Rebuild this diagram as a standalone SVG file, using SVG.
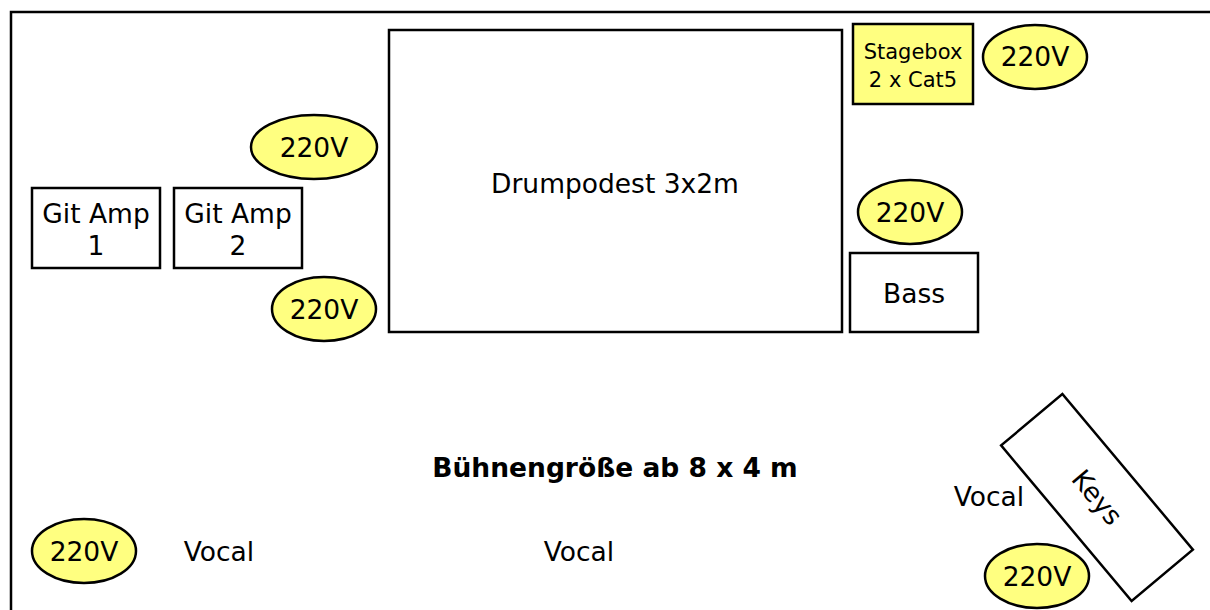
<svg xmlns="http://www.w3.org/2000/svg" width="1210" height="610" viewBox="0 0 1210 610">
<style>
.box{fill:#ffffff;stroke:#000000;stroke-width:2.5}
.ybox{fill:#ffff80;stroke:#000000;stroke-width:2.5}
.pw{fill:#ffff80;stroke:#000000;stroke-width:2.5}
text{font-family:"DejaVu Sans","Verdana",sans-serif;font-size:26.5px;fill:#000000;text-anchor:middle}
.pwt{font-size:26.5px}
.sb{font-size:21px}
</style>
<rect width="1210" height="610" fill="#ffffff"/>
<g id="stage">
<path d="M11,620 L11,12 L1215,12" fill="none" stroke="#000" stroke-width="2.5"/>
<text x="615" y="477" font-weight="bold">Bühnengröße ab 8 x 4 m</text>
</g>
<g id="drum"><rect class="box" x="389" y="30" width="453" height="302"/><text x="615" y="193">Drumpodest 3x2m</text></g>
<g id="stagebox"><rect class="ybox" x="853" y="24" width="120" height="80"/><text class="sb" x="913" y="59">Stagebox</text><text class="sb" x="913" y="87">2 x Cat5</text></g>
<g id="p1"><ellipse class="pw" cx="1035" cy="57" rx="52" ry="32"/><text class="pwt" x="1035" y="66">220V</text></g>
<g id="p2"><ellipse class="pw" cx="314" cy="147" rx="63" ry="32"/><text class="pwt" x="314" y="157">220V</text></g>
<g id="amp1"><rect class="box" x="32" y="188" width="128" height="80"/><text x="96" y="223">Git Amp</text><text x="96" y="255">1</text></g>
<g id="amp2"><rect class="box" x="174" y="188" width="128" height="80"/><text x="238" y="223">Git Amp</text><text x="238" y="255">2</text></g>
<g id="p3"><ellipse class="pw" cx="324" cy="309" rx="52" ry="32"/><text class="pwt" x="324" y="319">220V</text></g>
<g id="p4"><ellipse class="pw" cx="910" cy="212" rx="52" ry="32"/><text class="pwt" x="910" y="222">220V</text></g>
<g id="bass"><rect class="box" x="850" y="253" width="128" height="79"/><text x="914" y="303">Bass</text></g>
<g id="keys"><g transform="translate(1097,497.5) rotate(50)"><rect class="box" x="-101.5" y="-40" width="203" height="80"/><text x="0" y="9">Keys</text></g></g>
<g id="v3"><text x="989" y="506">Vocal</text></g>
<g id="p6"><ellipse class="pw" cx="1037" cy="576" rx="52" ry="32"/><text class="pwt" x="1037" y="586">220V</text></g>
<g id="p5"><ellipse class="pw" cx="84" cy="551" rx="52" ry="32"/><text class="pwt" x="84" y="561">220V</text></g>
<g id="v1"><text x="219" y="561">Vocal</text></g>
<g id="v2"><text x="579" y="561">Vocal</text></g>
<g id="connectors"/>
</svg>
